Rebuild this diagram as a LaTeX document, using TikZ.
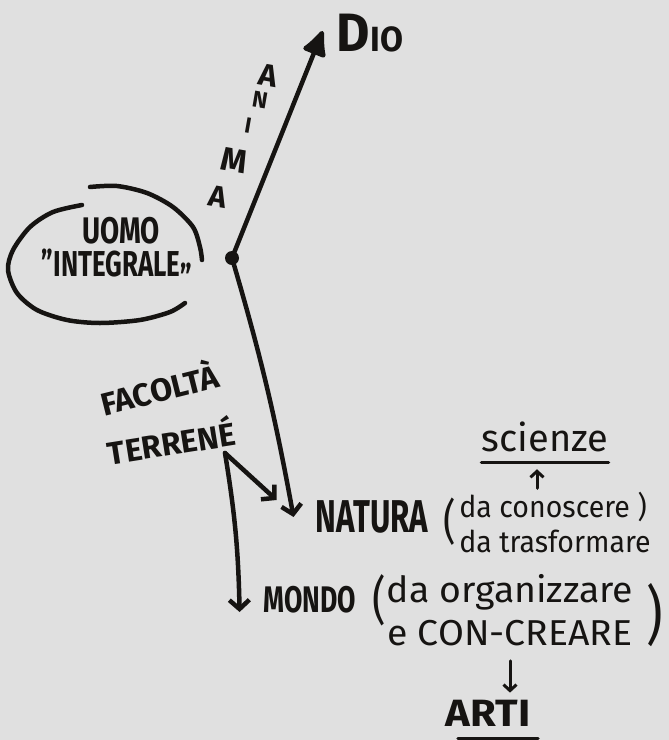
\documentclass[tikz,border=0pt]{standalone}
\usepackage{fontspec}
\setmainfont{Fira Sans}
\usetikzlibrary{arrows.meta, positioning}

\definecolor{paper}{HTML}{E0E0E0}
\definecolor{ink}{HTML}{161412}
\newcommand{\fsz}[1]{\fontsize{#1}{#1}\selectfont}

\tikzset{
    hand/.style={inner sep=0pt, text=ink, xscale=#1},
    hand/.default=1,
    caps/.style={font=\bfseries},
    pen/.style={draw=ink, line width=4.5pt, line cap=round, line join=round},
    arr/.style={pen, -{Straight Barb[length=9pt,width=20pt]}},
    smallarr/.style={pen, line width=3pt, -{Straight Barb[length=6pt,width=13pt]}},
}

\begin{document}
\begin{tikzpicture}[x=1pt,y=-1pt]
        \fill[paper] (0,0) rectangle (669,740);
        \useasboundingbox (0,0) rectangle (669,740);

        % top: the soul goes up to God
        \node[hand=0.95, caps] (dio) at (370,33) {\fsz{54}D\fsz{35}IO};
        \coordinate (soul) at (232,258);
        \fill[ink] (soul) circle (7pt);
        \draw[pen, -{Latex[length=30pt,width=28pt,round]}] (soul) -- ([xshift=-14pt,yshift=2pt]dio.west);

        \node[hand, caps, rotate=-10] (anima1) at (268,76) {\fsz{31}A};
        \node[hand, caps, rotate=-10] (anima2) at (260,100) {\fsz{23}N};
        \node[hand, caps, rotate=-10] (anima3) at (248,126) {\fsz{22}I};
        \node[hand, caps, rotate=-10] (anima4) at (234,160) {\fsz{33}M};
        \node[hand, caps, rotate=-10] (anima5) at (218,197) {\fsz{30}A};

        % the whole man
        \node[hand=0.75, caps] (uomo) at (121,231) {\fsz{37}UOMO};
        \node[hand=0.72, caps] (integrale) at (117,270) {\fsz{36}"INTEGRALE\raisebox{-14pt}{"}};
        \draw[pen] plot[smooth] coordinates {(90,187) (117,186) (147,193) (173,207) (193,227) (200,247) (202,260)};
        \draw[pen] plot[smooth] coordinates {(82,205) (53,212) (30,227) (13,250) (8,270) (17,293) (37,310) (67,320) (100,323) (140,320) (170,312) (185,303)};

        % earthly faculties
        \node[hand=1.0, caps, rotate=14] (facolta) at (159,387) {\fsz{32}FACOLTÀ};
        \node[hand=1.0, caps, rotate=9] (terrene) at (171,440) {\fsz{32}TERRENÉ};
        \coordinate (fork) at (225,453);

        % nature
        \node[hand=0.68, caps] (natura) at (372,517) {\fsz{46}NATURA};
        \node[hand=0.8] (natparen) at (450,522) {\fsz{48}(};
        \node[hand=0.95, align=left, font={\fontsize{30}{35}\selectfont}] (natnote) at (555,522) {da conoscere )\\da trasformare};
        \node[hand] (scienze) at (545,437) {\fsz{38}scienze};
        \draw[pen, line width=3.5pt] ([yshift=-10pt]scienze.south west) -- ([yshift=-10pt]scienze.south east);
        \draw[smallarr] ([xshift=-8pt,yshift=-36pt]scienze.south) -- ([xshift=-8pt,yshift=-17pt]scienze.south);

        \draw[arr] (soul) to[bend left=3] ([xshift=-22pt]natura.west);
        \draw[arr] (fork) -- ([xshift=-39pt,yshift=17pt]natura.west);

        % world
        \node[hand=0.72, caps] (mondo) at (310,600) {\fsz{37}MONDO};
        \node[hand=0.8] (mondoparen) at (379,600) {\fsz{52}(};
        \node[hand=1.04, align=center, font={\fontsize{36}{43}\selectfont}] (mondonote) at (510,610) {da organizzare\\e CON-CREARE};
        \node[hand=0.8] (mondoparen2) at (655,615) {\fsz{64})};
        \draw[arr] (fork) to[bend left=4] ([xshift=-24pt,yshift=-12pt]mondo.west);

        % arts
        \node[hand=1.1, caps] (arti) at (488,713) {\fsz{38}ARTI};
        \draw[smallarr, shorten >=7pt] ([yshift=-15pt]mondonote.south) -- (mondonote.south |- arti.north);
        \draw[pen, line width=3.5pt] ([xshift=-30pt,yshift=-12pt]arti.south) -- ([xshift=50pt,yshift=-12pt]arti.south);
\end{tikzpicture}
\end{document}
